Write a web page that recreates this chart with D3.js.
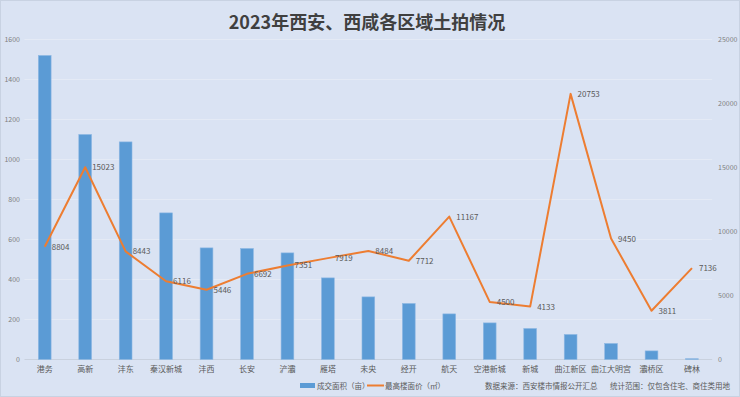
<!DOCTYPE html>
<html><head><meta charset="utf-8">
<script src="https://cdn.jsdelivr.net/npm/d3@7"></script>
<style>body{margin:0;background:#dae3f3;}svg{display:block;}</style>
</head><body>
<svg id="c" width="740" height="397"></svg>
<script>
const categories = ["港务","高新","沣东","秦汉新城","沣西","长安","浐灞","雁塔","未央","经开","航天","空港新城","新城","曲江新区","曲江大明宫","灞桥区","碑林"];
const area = [1520,1125,1088,733,558,555,533,408,313,280,228,183,155,125,80,43,4];
const price = [8804,15023,8443,6116,5446,6692,7351,7919,8484,7712,11167,4500,4133,20753,9450,3811,7136];
const leftTicks = [0,200,400,600,800,1000,1200,1400,1600];
const rightTicks = [0,5000,10000,15000,20000,25000];

const svg = d3.select("#c");
const W = 740, H = 397;
const font = "'Noto Sans CJK SC', 'Noto Sans', sans-serif";
svg.append("rect").attr("x",0.5).attr("y",0.5).attr("width",W-1).attr("height",H-1)
  .attr("fill","#dae3f3").attr("stroke","#c8d2e2");

const x = d3.scaleBand().domain(categories).range([24.5,712.2]).padding(0);
const yL = d3.scaleLinear().domain([0,1600]).range([359.5,39.5]);
const yR = d3.scaleLinear().domain([0,25000]).range([359.5,39.5]);

// gridlines
svg.append("g").selectAll("line").data(leftTicks).join("line")
  .attr("x1",24.5).attr("x2",712.2)
  .attr("y1",d=>yL(d)).attr("y2",d=>yL(d))
  .attr("stroke",d=>d===0?"#c9d1de":"#e4eaf5").attr("stroke-width",1);

// left axis
const axL = d3.axisLeft(yL).tickValues(leftTicks).tickFormat(d3.format("d")).tickSize(0).tickPadding(0);
const gL = svg.append("g").attr("transform","translate(20,0)").call(axL);
gL.select(".domain").remove();
gL.selectAll("text").attr("font-family",font).attr("font-size",7).attr("fill","#7f7f7f");

const axR = d3.axisRight(yR).tickValues(rightTicks).tickFormat(d3.format("d")).tickSize(0).tickPadding(0);
const gR = svg.append("g").attr("transform","translate(718,0)").call(axR);
gR.select(".domain").remove();
gR.selectAll("text").attr("font-family",font).attr("font-size",7).attr("fill","#7f7f7f");

// x axis
const axX = d3.axisBottom(x).tickSize(0).tickPadding(0);
const gX = svg.append("g").attr("transform","translate(0,366)").call(axX);
gX.select(".domain").remove();
gX.selectAll("text").attr("font-family",font).attr("font-size",8).attr("fill","#595959");

// bars
const bw = x.bandwidth()*0.315;
svg.append("g").selectAll("rect").data(area).join("rect")
  .attr("x",(d,i)=>x(categories[i])+x.bandwidth()/2-bw/2)
  .attr("y",d=>yL(d)).attr("width",bw).attr("height",d=>yL(0)-yL(d))
  .attr("fill","#5b9bd5").attr("stroke","#8db7e3").attr("stroke-width",0.6);

// line
const cx = i => x(categories[i])+x.bandwidth()/2;
const line = d3.line().x((d,i)=>cx(i)).y(d=>yR(d));
svg.append("path").datum(price).attr("d",line).attr("fill","none")
  .attr("stroke","#ed7d31").attr("stroke-width",2).attr("stroke-linejoin","round");

svg.append("g").selectAll("text").data(price).join("text")
  .attr("x",(d,i)=>cx(i)+7).attr("y",d=>yR(d)+3)
  .attr("font-family",font).attr("font-size",8).attr("fill","#595959")
  .text(d=>d);

// title
svg.append("text").attr("x",367).attr("y",29).attr("text-anchor","middle")
  .attr("font-family",font).attr("font-size",18).attr("font-weight","bold")
  .attr("fill","#404040").text("2023年西安、西咸各区域土拍情况");

// legend
const lg = svg.append("g").attr("font-family",font).attr("font-size",7.5).attr("fill","#595959");
lg.append("rect").attr("x",300).attr("y",383).attr("width",15).attr("height",5).attr("fill","#5b9bd5");
lg.append("text").attr("x",317).attr("y",388.5).text("成交面积（亩）");
lg.append("line").attr("x1",367).attr("x2",384).attr("y1",385.5).attr("y2",385.5).attr("stroke","#ed7d31").attr("stroke-width",2);
lg.append("text").attr("x",385).attr("y",388.5).text("最高楼面价（㎡）");
lg.append("text").attr("x",485).attr("y",388.5).text("数据来源：西安楼市情报公开汇总");
lg.append("text").attr("x",610).attr("y",388.5).text("统计范围：仅包含住宅、商住类用地");
</script>
</body></html>
